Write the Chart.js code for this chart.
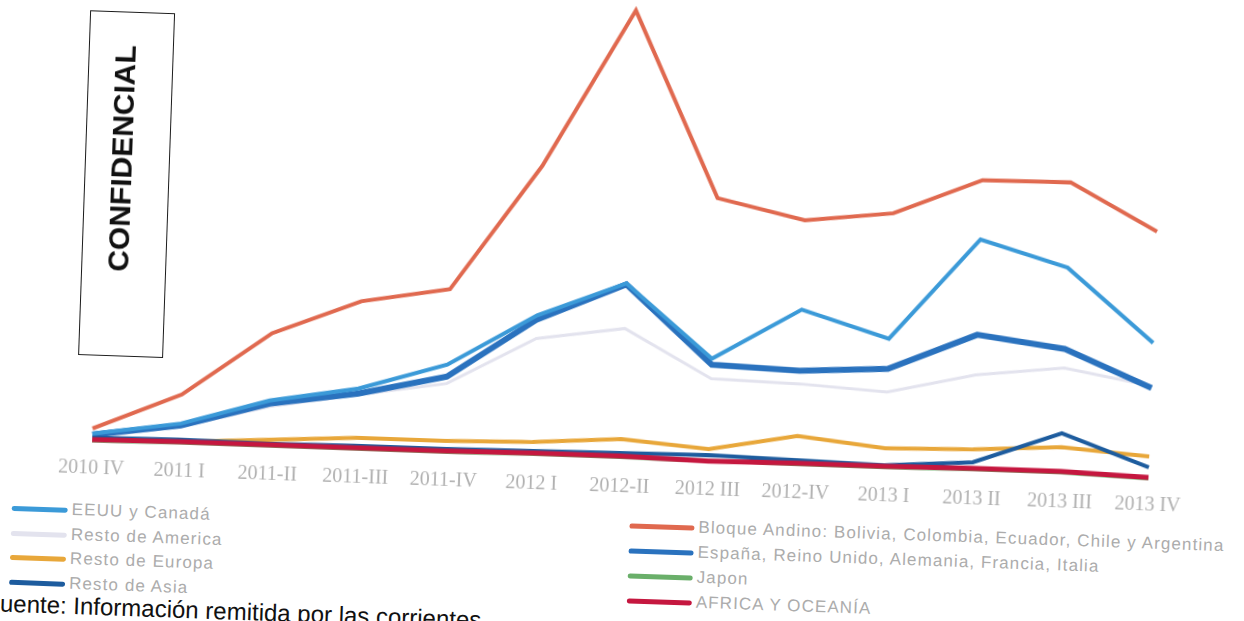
<!DOCTYPE html>
<html>
<head>
<meta charset="utf-8">
<script src="https://cdn.jsdelivr.net/npm/chart.js@4.4.0/dist/chart.umd.min.js"></script>
<style>
	body { margin:0; background:#fff; overflow:hidden; width:1244px; height:621px; }
	/* la hoja escaneada esta un poco girada */
	#hoja { position:absolute; left:0; top:0; width:1244px; height:680px; transform:rotate(2deg); transform-origin:622px 310px; }
	#grafico { position:absolute; left:0; top:0; }
	#confidencial { position:absolute; left:80px; top:29px; width:83px; height:343px; border:1.5px solid #1a1a1a; }
	#confidencial span { position:absolute; left:36px; top:146px; transform:translate(-50%,-50%) rotate(-90deg);
		font:bold 30px "Liberation Sans", Arial, sans-serif; color:#111; white-space:nowrap; }
	.item { position:absolute; height:20px; line-height:20px; font:17px "Liberation Sans", Arial, sans-serif; letter-spacing:1.1px; color:#acacac; white-space:nowrap; }
	.item i { display:inline-block; height:5px; border-radius:3px; vertical-align:middle; margin-right:4px; }
	#fuente { position:absolute; left:-4px; top:611px; font:24px "Liberation Sans", Arial, sans-serif; color:#111; white-space:nowrap; }
</style>
</head>
<body>
<div id="hoja">
	<canvas id="grafico" width="1244" height="510"></canvas>
	<div id="confidencial"><span>CONFIDENCIAL</span></div>
	<div id="leyenda"></div>
	<div id="fuente">Fuente: Información remitida por las corrientes</div>
</div>
<script>

var trimestres = ['2010 IV','2011 I','2011-II','2011-III','2011-IV','2012 I','2012-II','2012 III','2012-IV','2013 I','2013 II','2013 III','2013 IV'];

var eeuuCanada    = [12, 25, 51, 66, 93, 145, 180, 108, 160, 134, 236, 211, 139];
var restoAmerica  = [8, 22, 45, 60, 74, 122, 135, 88, 86, 81, 101, 111, 96];
var restoEuropa   = [7, 7, 12, 17, 17, 19, 25, 18, 34, 25, 27, 32, 26];
var restoAsia     = [8, 9, 8, 9, 9, 10, 11, 12, 10, 8, 14, 46, 15];
var bloqueAndino  = [17, 54, 118, 153, 168, 294, 452, 268, 249, 259, 295, 296, 250];
var espanaEuropa  = [11, 23, 48, 61, 81, 141, 179, 102, 99, 104, 141, 130, 94];
var japon         = [5, 6, 6, 6, 6, 7, 7, 6, 6, 6, 7, 7, 4];
var africaOceania = [6, 7, 7, 7, 7, 8, 8, 6, 7, 7, 8, 8, 5];

// orden de la leyenda: columna izquierda y luego derecha
var series = [
	{ nombre:'EEUU y Canadá', datos:eeuuCanada, color:'#3b9ad8', ancho:4, capa:3 },
	{ nombre:'Resto de America', datos:restoAmerica, color:'#e3e3ee', ancho:3, capa:8 },
	{ nombre:'Resto de Europa', datos:restoEuropa, color:'#e8a73a', ancho:4, capa:5 },
	{ nombre:'Resto de Asia', datos:restoAsia, color:'#1d5c9e', ancho:4, capa:2 },
	{ nombre:'Bloque Andino: Bolivia, Colombia, Ecuador, Chile y Argentina', datos:bloqueAndino, color:'#e0694f', ancho:4, capa:6 },
	{ nombre:'España, Reino Unido, Alemania, Francia, Italia', datos:espanaEuropa, color:'#2a72be', ancho:6, capa:4 },
	{ nombre:'Japon', datos:japon, color:'#6aaf6a', ancho:4, capa:7 },
	{ nombre:'AFRICA Y OCEANÍA', datos:africaOceania, color:'#c5173f', ancho:5, capa:1 }
];

var datasets = [];
for (var i = 0; i < series.length; i++) {
	datasets.push({
		label: series[i].nombre,
		data: series[i].datos,
		borderColor: series[i].color,
		backgroundColor: series[i].color,
		borderWidth: series[i].ancho,
		order: series[i].capa,
		pointRadius: 0,
		tension: 0,
		fill: false
	});
}

var grafico = new Chart(document.getElementById('grafico'), {
	type: 'line',
	data: { labels: trimestres, datasets: datasets },
	options: {
		responsive: false,
		animation: false,
		layout: { padding: { left: 97, right: 90, top: 2, bottom: 0 } },
		plugins: { legend: { display: false }, tooltip: { enabled: false } },
		scales: {
			x: {
				grid: { display: false, drawTicks: false },
				border: { display: false },
				ticks: { color: '#b0b0b0', padding: 11, maxRotation: 0, autoSkip: false,
					font: { family: '"Liberation Serif", serif', size: 20 } }
			},
			y: { display: false, min: 0, max: 460 }
		}
	}
});

// leyenda en dos columnas
var huecos = [[19,519],[19,544],[19,568],[19,593],[637,515],[637,540],[637,565],[637,590]];
var leyenda = document.getElementById('leyenda');
for (var j = 0; j < series.length; j++) {
	var item = document.createElement('div');
	item.className = 'item';
	item.style.left = huecos[j][0] + 'px';
	item.style.top = huecos[j][1] + 'px';
	var raya = document.createElement('i');
	raya.style.width = (j < 4 ? 56 : 65) + 'px';
	raya.style.background = series[j].color;
	item.appendChild(raya);
	item.appendChild(document.createTextNode(series[j].nombre));
	leyenda.appendChild(item);
}

</script>
</body>
</html>
